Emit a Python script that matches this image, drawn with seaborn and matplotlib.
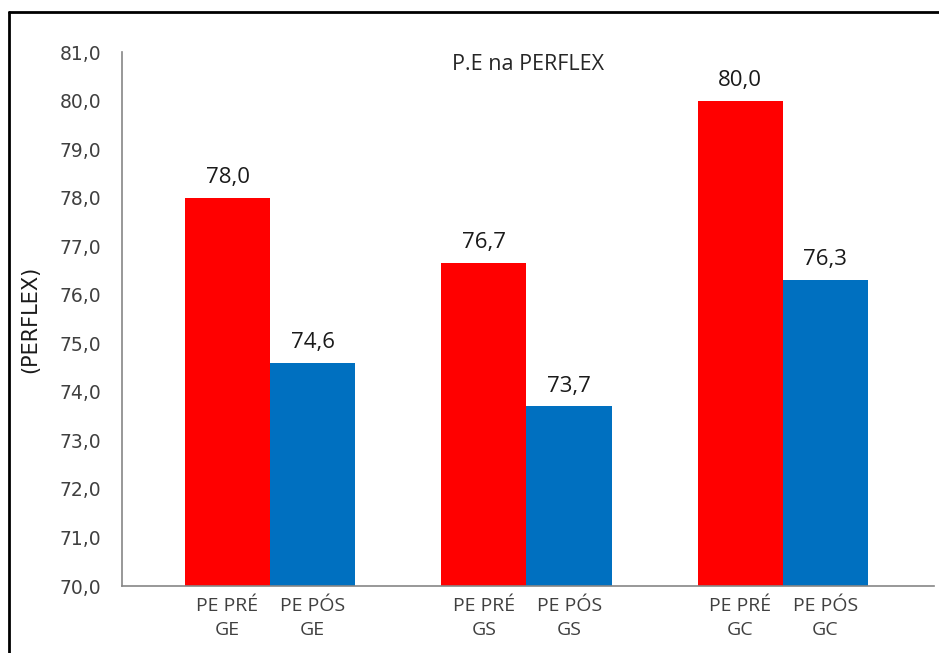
import numpy as np
import pandas as pd
import seaborn as sns
import matplotlib.pyplot as plt
from matplotlib.lines import Line2D

# data
grupos = ['GE', 'GS', 'GC']
fases = ['PE PRÉ', 'PE PÓS']
valores_pre = [78.0, 76.65, 80.0]
valores_pos = [74.6, 73.7, 76.3]
cores = ['#FF0000', '#0070C0']

df = pd.DataFrame({
    'grupo': grupos * 2,
    'fase': [fases[0]] * 3 + [fases[1]] * 3,
    'valor': valores_pre + valores_pos,
})

sns.set_style('white')
plt.rcParams['font.family'] = ['DejaVu Sans']
open_sans = ['Open Sans', 'DejaVu Sans']

fig = plt.figure(figsize=(9.39, 6.53), dpi=100)
ax = fig.add_axes([122 / 939, 67 / 653, 812 / 939, 534 / 653])

sns.barplot(data=df, x='grupo', y='valor', hue='fase', order=grupos,
            hue_order=fases, palette=cores, width=0.665, saturation=1,
            legend=False, ax=ax, linewidth=0)

ax.set_ylim(70, 81)
ax.set_xlim(-0.578, 2.59)
ax.set_yticks(np.arange(70, 82, 1))
ax.set_yticklabels([f'{v:.1f}'.replace('.', ',') for v in np.arange(70, 82, 1)],
                   fontsize=13.5, color='#404040')
ax.tick_params(axis='y', length=6, width=1, color='#868686', direction='out', pad=9)

# tick labels under each bar, positions taken from the drawn bars
centros, rotulos = [], []
for patch, (fase, grupo) in zip(ax.patches, [(f, g) for f in fases for g in grupos]):
    cx = patch.get_x() + patch.get_width() / 2
    centros.append(cx)
    rotulos.append(f'{fase}\n{grupo}')
    h = patch.get_height()
    ax.text(cx, h + 0.2, f'{h:.1f}'.replace('.', ','), ha='center', va='bottom',
            fontsize=16, color='#1a1a1a', family=open_sans)
ax.set_xticks(centros)
ax.set_xticklabels(rotulos, fontsize=14, color='#404040', family=open_sans,
                   linespacing=1.45)
ax.tick_params(axis='x', length=0, pad=8)

for s in ['top', 'right']:
    ax.spines[s].set_visible(False)
for s in ['left', 'bottom']:
    ax.spines[s].set_color('#868686')
    ax.spines[s].set_linewidth(1.2)

ax.set_xlabel('')
ax.set_ylabel('(PERFLEX)', fontsize=15, color='#1a1a1a', labelpad=14)
ax.text(0.5, 0.976, 'P.E na PERFLEX', transform=ax.transAxes, ha='center',
        va='center', fontsize=15.5, color='#262626', family=open_sans)

# outer frame of the original picture (only left and top edges are visible)
x0 = 9 / 939
y0 = 1 - 12 / 653
fig.add_artist(Line2D([x0, x0], [0, y0], transform=fig.transFigure,
                      color='black', linewidth=2))
fig.add_artist(Line2D([x0, 1], [y0, y0], transform=fig.transFigure,
                      color='black', linewidth=2))

fig.savefig('out.png', dpi=100)
